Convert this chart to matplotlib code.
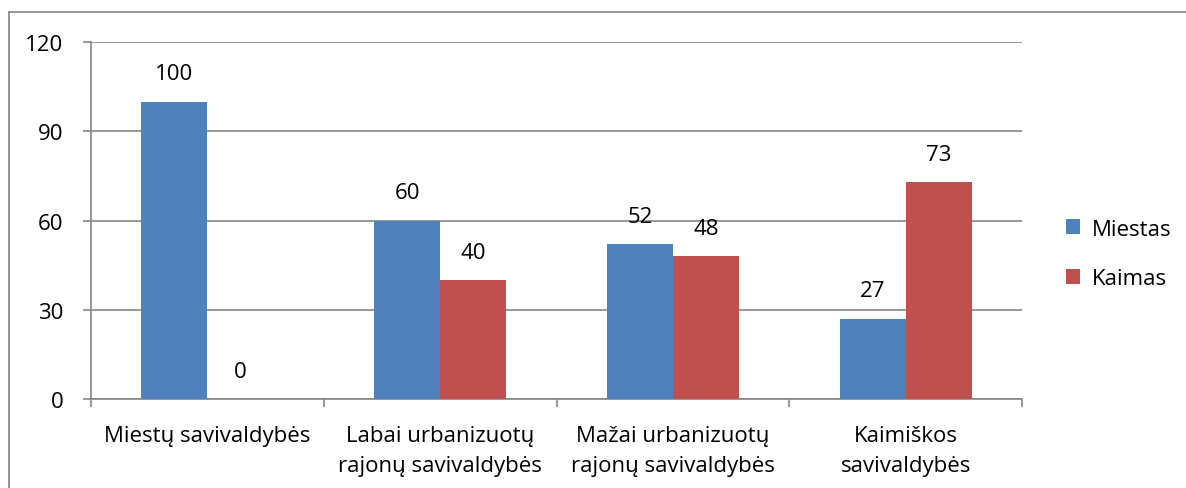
import matplotlib.pyplot as plt
import numpy as np

categories = ['Miestų savivaldybės', 'Labai urbanizuotų\nrajonų savivaldybės',
              'Mažai urbanizuotų\nrajonų savivaldybės', 'Kaimiškos\nsavivaldybės']
miestas = [100, 60, 52, 27]
kaimas = [0, 40, 48, 73]
yticks = [0, 30, 60, 90, 120]

blue = '#4F81BD'
red = '#C0504D'
grid_col = '#868686'
fs = 16

plt.rcParams['font.family'] = ['Open Sans', 'DejaVu Sans']

fig = plt.figure(figsize=(11.86, 4.89), dpi=100)
ax = fig.add_axes([91 / 1186, 1 - 400 / 489, (1022 - 91) / 1186, (400 - 43) / 489])

# outer chart frame (only left and top visible)
fig.add_artist(plt.Line2D([9 / 1186, 9 / 1186], [0, 1 - 13 / 489], transform=fig.transFigure,
                          color='#8a8a8a', lw=1.3))
fig.add_artist(plt.Line2D([9 / 1186, 1], [1 - 13 / 489, 1 - 13 / 489], transform=fig.transFigure,
                          color='#8a8a8a', lw=1.3))

x = np.arange(len(categories))
w = 0.284
b1 = ax.bar(x - w / 2, miestas, w, color=blue, label='Miestas', zorder=3)
b2 = ax.bar(x + w / 2, kaimas, w, color=red, label='Kaimas', zorder=3)

for bars, vals in ((b1, miestas), (b2, kaimas)):
    for bar, v in zip(bars, vals):
        ax.annotate(str(v), (bar.get_x() + bar.get_width() / 2, v), xytext=(0, 20),
                    textcoords='offset points', ha='center', va='center', fontsize=fs)

ax.set_xlim(-0.5, len(categories) - 0.5)
ax.set_ylim(0, 120)
ax.set_yticks(yticks)
ax.set_yticklabels([str(t) for t in yticks], fontsize=fs)
ax.yaxis.grid(True, color=grid_col, lw=1.2, zorder=0)
ax.tick_params(axis='y', length=6, width=1.2, color=grid_col, pad=14)

ax.set_xticks(x)
ax.set_xticklabels(categories, fontsize=fs, linespacing=1.55)
ax.tick_params(axis='x', length=0, pad=19)
ax.set_xticks(np.arange(-0.5, len(categories), 1), minor=True)
ax.tick_params(axis='x', which='minor', length=6, width=1.2, color=grid_col)

for s in ['top', 'right']:
    ax.spines[s].set_visible(False)
for s in ['left', 'bottom']:
    ax.spines[s].set_color(grid_col)
    ax.spines[s].set_linewidth(1.2)

ax.legend(loc='center left', bbox_to_anchor=(1046 / 1186, 1 - 255 / 489),
          bbox_transform=fig.transFigure, frameon=False, fontsize=fs,
          handlelength=0.65, handleheight=0.65, labelspacing=1.3, handletextpad=0.5)

fig.savefig('out.png', dpi=100)
